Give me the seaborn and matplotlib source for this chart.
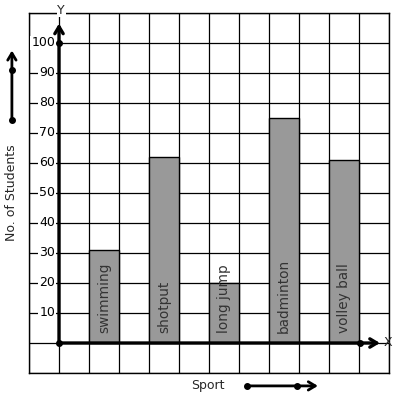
import matplotlib
matplotlib.use("Agg")
import matplotlib.pyplot as plt
import seaborn as sns
import pandas as pd
import numpy as np

sports = ["swimming", "shotput", "long jump", "badminton", "volley ball"]
students = [31, 62, 20, 75, 61]
y_ticks = [10, 20, 30, 40, 50, 60, 70, 80, 90, 100]

df = pd.DataFrame({"sport": sports, "students": students})

sns.set_style("white")
plt.rcParams["font.family"] = ["DejaVu Sans"]

fig = plt.figure(figsize=(3.97, 3.99), dpi=100)
ax = fig.add_axes([29/397, 26/399, 360/397, 360/399])

def c(col):
    # grid column units -> categorical axis units
    return (col - 1.5) / 2.0

sns.barplot(data=df, x="sport", y="students", ax=ax, width=0.5,
            color="#999999", saturation=1, edgecolor="black", linewidth=1, zorder=3)

ax.set_xlim(c(-1), c(11))
ax.set_ylim(-10, 110)
ax.set_xticks([])
ax.set_yticks([])
ax.set_xlabel("")
ax.set_ylabel("")
for s in ax.spines.values():
    s.set_color("black")
    s.set_linewidth(1)

for k in range(-1, 12):
    ax.axvline(c(k), color="black", lw=0.9, zorder=1)
for yv in range(-10, 111, 10):
    ax.axhline(yv, color="black", lw=0.9, zorder=1)

# bar labels
for i, s in enumerate(sports):
    ax.text(i, 3.3, s, rotation=90, ha="center", va="bottom",
            fontsize=9.8, color="#333333", zorder=5)

# y tick labels
for t in y_ticks:
    ax.text(c(-0.13), t, str(t), ha="right", va="center", fontsize=9,
            color="black", zorder=5,
            bbox=dict(facecolor="white", edgecolor="none", pad=0.6))

# axes lines with arrows
ax.annotate("", xy=(c(0), 106.5), xytext=(c(0), 0),
            arrowprops=dict(arrowstyle="->,head_length=0.5,head_width=0.3", lw=2.4, color="black",
                            shrinkA=0, shrinkB=0), zorder=6, annotation_clip=False)
ax.annotate("", xy=(c(10.7), 0), xytext=(c(0), 0),
            arrowprops=dict(arrowstyle="->,head_length=0.5,head_width=0.3", lw=2.4, color="black",
                            shrinkA=0, shrinkB=0), zorder=6, annotation_clip=False)
ax.plot([c(0), c(0), c(10.03)], [0, 100, 0], "o", color="black", ms=4, zorder=7, clip_on=False)

ax.text(c(0.07), 111, "Y", ha="center", va="center", fontsize=9, zorder=6,
        bbox=dict(facecolor="white", edgecolor="none", pad=0.5))
ax.text(c(10.97), 0, "X", ha="center", va="center", fontsize=9, zorder=6, clip_on=False)

# axis titles with decorative arrows
ax.text(c(-1.57), 50, "No. of Students", rotation=90, ha="center", va="center", fontsize=9)
ax.text(c(4.97), -14.3, "Sport", ha="center", va="center", fontsize=9)

ax.annotate("", xy=(c(-1.57), 97.5), xytext=(c(-1.57), 74.3),
            arrowprops=dict(arrowstyle="->,head_length=0.5,head_width=0.3", lw=2, color="black",
                            shrinkA=0, shrinkB=0), annotation_clip=False)
ax.plot([c(-1.57), c(-1.57)], [74.3, 91], "o", color="black", ms=4, clip_on=False)
ax.annotate("", xy=(c(8.63), -14.3), xytext=(c(6.27), -14.3),
            arrowprops=dict(arrowstyle="->,head_length=0.5,head_width=0.3", lw=2, color="black",
                            shrinkA=0, shrinkB=0), annotation_clip=False)
ax.plot([c(6.27), c(7.93)], [-14.3, -14.3], "o", color="black", ms=4, clip_on=False)

fig.savefig("out.png", dpi=100, facecolor="white")
